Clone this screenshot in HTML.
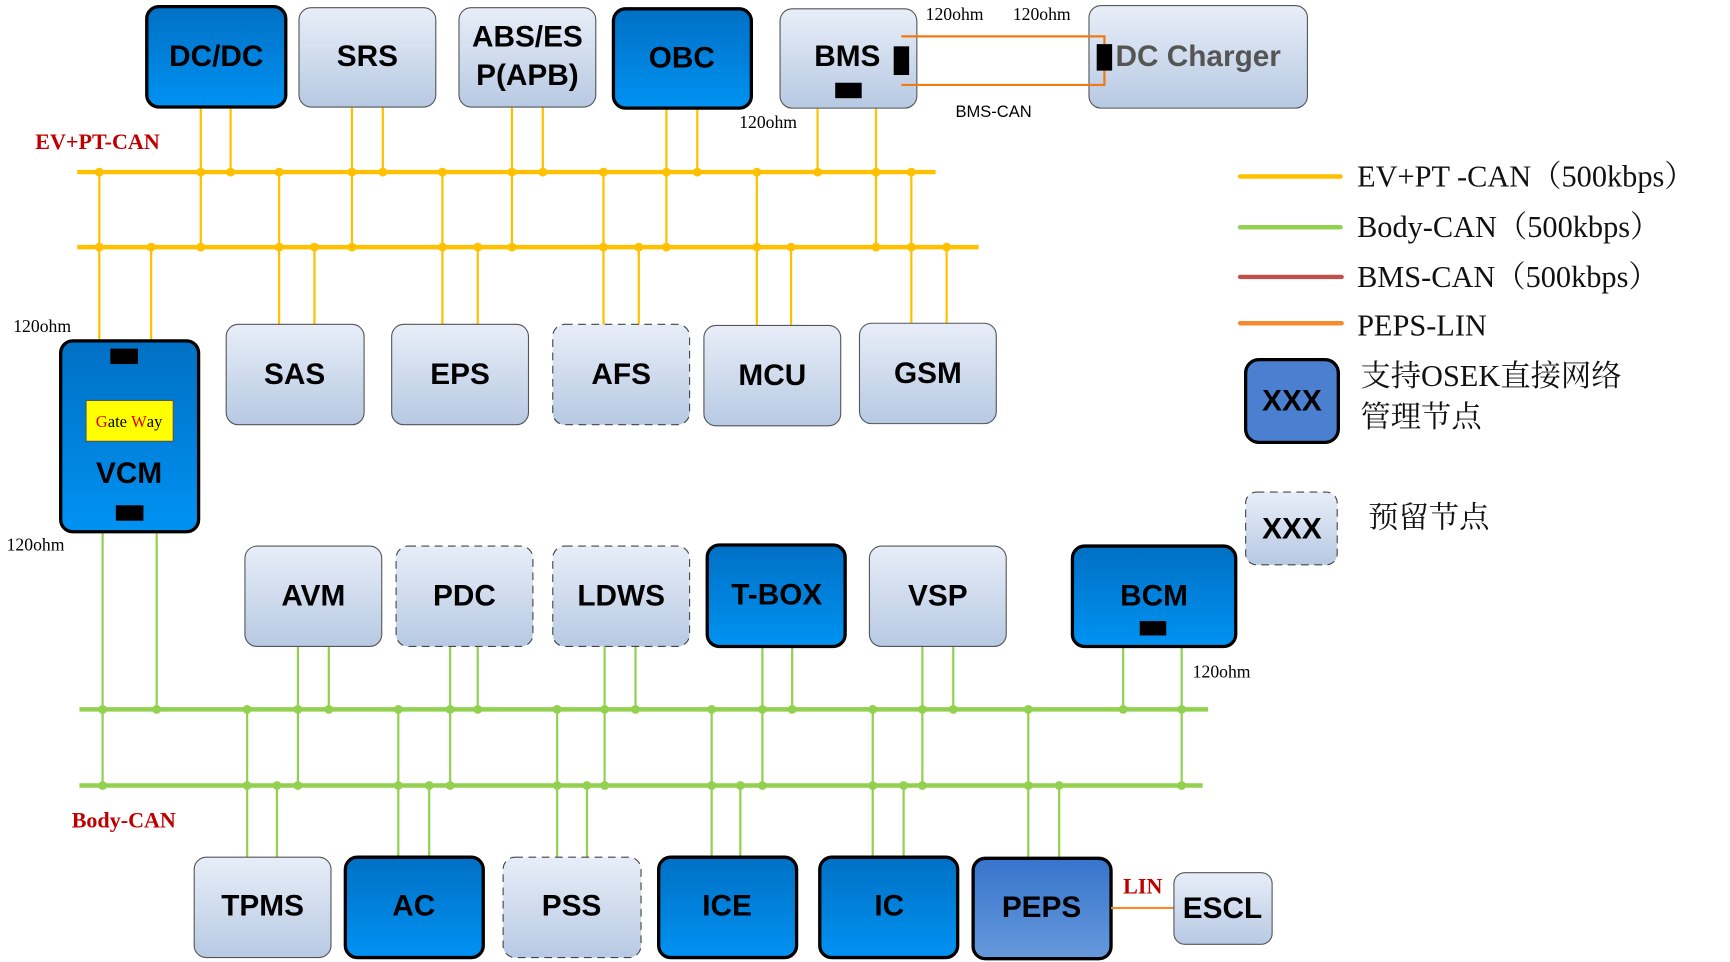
<!DOCTYPE html>
<html><head><meta charset="utf-8"><style>html,body{margin:0;padding:0;background:#fff}svg{display:block}</style></head><body>
<svg width="1730" height="962" viewBox="0 0 1568 872" preserveAspectRatio="none" xmlns="http://www.w3.org/2000/svg">
<defs>
<linearGradient id="lg" x1="0" y1="0" x2="0" y2="1"><stop offset="0" stop-color="#e8eef8"/><stop offset="1" stop-color="#b7c9e3"/></linearGradient>
<linearGradient id="bg" x1="0" y1="0" x2="0" y2="1"><stop offset="0" stop-color="#0070c4"/><stop offset="1" stop-color="#0092f2"/></linearGradient>
<linearGradient id="pg" x1="0" y1="0" x2="0" y2="1"><stop offset="0" stop-color="#3774cc"/><stop offset="1" stop-color="#6699db"/></linearGradient>
</defs>
<g font-family="Liberation Sans, sans-serif" font-weight="bold" font-size="27" text-anchor="middle">
<g stroke="#ffc000" stroke-width="2" fill="none">
<path d="M90 156V322H100M137 224V322H125"/>
<path d="M182 97V224M209 97V156M319 97V224M347 97V156M464 97V224M492 97V156M604 98V224M632 98V156"/>
<path d="M781 83H794V224M757 83H741V156"/>
<path d="M253 156V294M285 224V294M401 156V294M433 224V294M547 156V294M579 224V294M686 156V295M717 224V295M826 156V293M858 224V293"/>
</g>
<g stroke="#ffc000" stroke-width="4"><line x1="70" y1="156" x2="848" y2="156"/><line x1="70" y1="224" x2="887" y2="224"/></g>
<g fill="#ffc000">
<circle cx="90" cy="156" r="4"/><circle cx="182" cy="156" r="4"/><circle cx="209" cy="156" r="4"/><circle cx="253" cy="156" r="4"/><circle cx="319" cy="156" r="4"/><circle cx="347" cy="156" r="4"/><circle cx="401" cy="156" r="4"/><circle cx="464" cy="156" r="4"/><circle cx="492" cy="156" r="4"/><circle cx="547" cy="156" r="4"/><circle cx="604" cy="156" r="4"/><circle cx="632" cy="156" r="4"/><circle cx="686" cy="156" r="4"/><circle cx="741" cy="156" r="4"/><circle cx="794" cy="156" r="4"/><circle cx="826" cy="156" r="4"/>
<circle cx="90" cy="224" r="4"/><circle cx="137" cy="224" r="4"/><circle cx="182" cy="224" r="4"/><circle cx="253" cy="224" r="4"/><circle cx="285" cy="224" r="4"/><circle cx="319" cy="224" r="4"/><circle cx="401" cy="224" r="4"/><circle cx="433" cy="224" r="4"/><circle cx="464" cy="224" r="4"/><circle cx="547" cy="224" r="4"/><circle cx="579" cy="224" r="4"/><circle cx="604" cy="224" r="4"/><circle cx="686" cy="224" r="4"/><circle cx="717" cy="224" r="4"/><circle cx="794" cy="224" r="4"/><circle cx="826" cy="224" r="4"/><circle cx="858" cy="224" r="4"/>
</g>
<g stroke="#92d050" stroke-width="2" fill="none">
<path d="M105 465H93V712M130 465H142V643"/>
<path d="M270 586V712M298 586V643M408 586V712M433 586V643M548 586V712M576 586V643M691 586V712M718 586V643M836 586V712M864 586V643"/>
<path d="M1033 569H1018V643M1057 569H1071V712"/>
<path d="M224 643V777M251 712V777M361 643V777M389 712V777M505 643V777M532 712V777M645 643V777M671 712V777M791 643V777M819 712V777M932 643V778M960 712V778"/>
</g>
<g stroke="#92d050" stroke-width="4"><line x1="72" y1="643" x2="1095" y2="643"/><line x1="72" y1="712" x2="1090" y2="712"/></g>
<g fill="#92d050">
<circle cx="93" cy="643" r="4"/><circle cx="142" cy="643" r="4"/><circle cx="224" cy="643" r="4"/><circle cx="270" cy="643" r="4"/><circle cx="298" cy="643" r="4"/><circle cx="361" cy="643" r="4"/><circle cx="408" cy="643" r="4"/><circle cx="433" cy="643" r="4"/><circle cx="505" cy="643" r="4"/><circle cx="548" cy="643" r="4"/><circle cx="576" cy="643" r="4"/><circle cx="645" cy="643" r="4"/><circle cx="691" cy="643" r="4"/><circle cx="718" cy="643" r="4"/><circle cx="791" cy="643" r="4"/><circle cx="836" cy="643" r="4"/><circle cx="864" cy="643" r="4"/><circle cx="932" cy="643" r="4"/><circle cx="1018" cy="643" r="4"/><circle cx="1071" cy="643" r="4"/>
<circle cx="93" cy="712" r="4"/><circle cx="224" cy="712" r="4"/><circle cx="251" cy="712" r="4"/><circle cx="270" cy="712" r="4"/><circle cx="361" cy="712" r="4"/><circle cx="389" cy="712" r="4"/><circle cx="408" cy="712" r="4"/><circle cx="505" cy="712" r="4"/><circle cx="532" cy="712" r="4"/><circle cx="548" cy="712" r="4"/><circle cx="645" cy="712" r="4"/><circle cx="671" cy="712" r="4"/><circle cx="691" cy="712" r="4"/><circle cx="791" cy="712" r="4"/><circle cx="819" cy="712" r="4"/><circle cx="836" cy="712" r="4"/><circle cx="932" cy="712" r="4"/><circle cx="960" cy="712" r="4"/><circle cx="1071" cy="712" r="4"/>
</g>
<rect x="133" y="6" width="126" height="91" rx="11" fill="url(#bg)" stroke="#000" stroke-width="3"/><text x="196" y="60">DC/DC</text>
<rect x="271" y="7" width="124" height="90" rx="11" fill="url(#lg)" stroke="#555" stroke-width="1"/><text x="333" y="60">SRS</text>
<rect x="416" y="7" width="124" height="90" rx="11" fill="url(#lg)" stroke="#555" stroke-width="1"/><text x="478" y="42">ABS/ES</text><text x="478" y="77">P(APB)</text>
<rect x="556" y="8" width="125" height="90" rx="11" fill="url(#bg)" stroke="#000" stroke-width="3"/><text x="618" y="61">OBC</text>
<rect x="707" y="8" width="124" height="90" rx="11" fill="url(#lg)" stroke="#555" stroke-width="1"/><text x="768" y="60">BMS</text>
<rect x="987" y="5" width="198" height="93" rx="11" fill="url(#lg)" stroke="#555" stroke-width="1"/><text x="1086" y="60" fill="#555">DC Charger</text>
<path d="M817 33H1001V77H817" stroke="#f07a10" stroke-width="2" fill="none"/>
<rect x="810" y="42" width="14" height="26" fill="#000"/><rect x="994" y="40" width="14" height="24" fill="#000"/><rect x="757" y="75" width="24" height="14" fill="#000"/>
<rect x="205" y="294" width="125" height="91" rx="11" fill="url(#lg)" stroke="#555"/><text x="267" y="348">SAS</text>
<rect x="355" y="294" width="124" height="91" rx="11" fill="url(#lg)" stroke="#555"/><text x="417" y="348">EPS</text>
<rect x="501" y="294" width="124" height="91" rx="11" fill="url(#lg)" stroke="#444" stroke-dasharray="7,5"/><text x="563" y="348">AFS</text>
<rect x="638" y="295" width="124" height="91" rx="11" fill="url(#lg)" stroke="#555"/><text x="700" y="349">MCU</text>
<rect x="779" y="293" width="124" height="91" rx="11" fill="url(#lg)" stroke="#555"/><text x="841" y="347">GSM</text>
<rect x="55" y="309" width="125" height="173" rx="11" fill="url(#bg)" stroke="#000" stroke-width="3"/>
<rect x="78" y="363" width="79" height="37" fill="#ffff00" stroke="#555"/>
<text x="117" y="387" font-family="Liberation Serif, serif" font-weight="normal" font-size="15"><tspan fill="#e00000">G</tspan><tspan fill="#000">ate </tspan><tspan fill="#e00000">W</tspan><tspan fill="#000">ay</tspan></text>
<text x="117" y="438">VCM</text>
<rect x="100" y="316" width="25" height="14" fill="#000"/><rect x="105" y="458" width="25" height="14" fill="#000"/>
<rect x="222" y="495" width="124" height="91" rx="11" fill="url(#lg)" stroke="#555"/><text x="284" y="549">AVM</text>
<rect x="359" y="495" width="124" height="91" rx="11" fill="url(#lg)" stroke="#444" stroke-dasharray="7,5"/><text x="421" y="549">PDC</text>
<rect x="501" y="495" width="124" height="91" rx="11" fill="url(#lg)" stroke="#444" stroke-dasharray="7,5"/><text x="563" y="549">LDWS</text>
<rect x="641" y="494" width="125" height="92" rx="11" fill="url(#bg)" stroke="#000" stroke-width="3"/><text x="704" y="548">T-BOX</text>
<rect x="788" y="495" width="124" height="91" rx="11" fill="url(#lg)" stroke="#555"/><text x="850" y="549">VSP</text>
<rect x="972" y="495" width="148" height="91" rx="11" fill="url(#bg)" stroke="#000" stroke-width="3"/><text x="1046" y="549">BCM</text>
<rect x="1033" y="563" width="24" height="13" fill="#000"/>
<rect x="176" y="777" width="124" height="91" rx="11" fill="url(#lg)" stroke="#555"/><text x="238" y="830">TPMS</text>
<rect x="313" y="777" width="125" height="91" rx="11" fill="url(#bg)" stroke="#000" stroke-width="3"/><text x="375" y="830">AC</text>
<rect x="456" y="777" width="125" height="91" rx="11" fill="url(#lg)" stroke="#444" stroke-dasharray="7,5"/><text x="518" y="830">PSS</text>
<rect x="597" y="777" width="125" height="91" rx="11" fill="url(#bg)" stroke="#000" stroke-width="3"/><text x="659" y="830">ICE</text>
<rect x="743" y="777" width="125" height="91" rx="11" fill="url(#bg)" stroke="#000" stroke-width="3"/><text x="806" y="830">IC</text>
<rect x="882" y="778" width="125" height="91" rx="11" fill="url(#pg)" stroke="#000" stroke-width="3"/><text x="944" y="831">PEPS</text>
<line x1="1007" y1="823" x2="1064" y2="823" stroke="#f58b2e" stroke-width="2"/>
<rect x="1064" y="791" width="89" height="65" rx="10" fill="url(#lg)" stroke="#555"/><text x="1108" y="832">ESCL</text>
<rect x="1129" y="326" width="84" height="75" rx="12" fill="#4a80cf" stroke="#000" stroke-width="3"/><text x="1171" y="372">XXX</text>
<rect x="1129" y="446" width="83" height="66" rx="10" fill="url(#lg)" stroke="#444" stroke-dasharray="7,5"/><text x="1171" y="488">XXX</text>
</g>
<g font-family="Liberation Serif, serif">
<text x="32" y="135" fill="#c00000" font-weight="bold" font-size="20">EV+PT-CAN</text>
<text x="65" y="750" fill="#c00000" font-weight="bold" font-size="20">Body-CAN</text>
<text x="1018" y="810" fill="#c00000" font-weight="bold" font-size="20">LIN</text>
<g font-size="16" fill="#000">
<text x="839" y="18">120ohm</text><text x="918" y="18">120ohm</text><text x="670" y="116">120ohm</text>
<text x="12" y="301">120ohm</text><text x="6" y="499">120ohm</text><text x="1081" y="614">120ohm</text>
</g>
<text x="866" y="106" font-family="Liberation Sans, sans-serif" font-size="15">BMS-CAN</text>
<g stroke-width="4" stroke-linecap="round"><line x1="1124" y1="160" x2="1215" y2="160" stroke="#ffc000"/><line x1="1124" y1="206" x2="1215" y2="206" stroke="#92d050"/><line x1="1124" y1="251" x2="1216" y2="251" stroke="#c0504d"/><line x1="1124" y1="293" x2="1216" y2="293" stroke="#f58b2e"/></g>
<g font-size="27.5" fill="#111" font-family="Liberation Serif, 'Noto Serif CJK SC', serif">
<text x="1230" y="169">EV+PT -CAN（500kbps）</text>
<text x="1230" y="215">Body-CAN（500kbps）</text>
<text x="1230" y="260">BMS-CAN（500kbps）</text>
<text x="1230" y="304">PEPS-LIN</text>
<text x="1233" y="350">支持OSEK直接网络</text>
<text x="1233" y="387">管理节点</text>
<text x="1240" y="478">预留节点</text>
</g>
</g>
</svg>
</body></html>
